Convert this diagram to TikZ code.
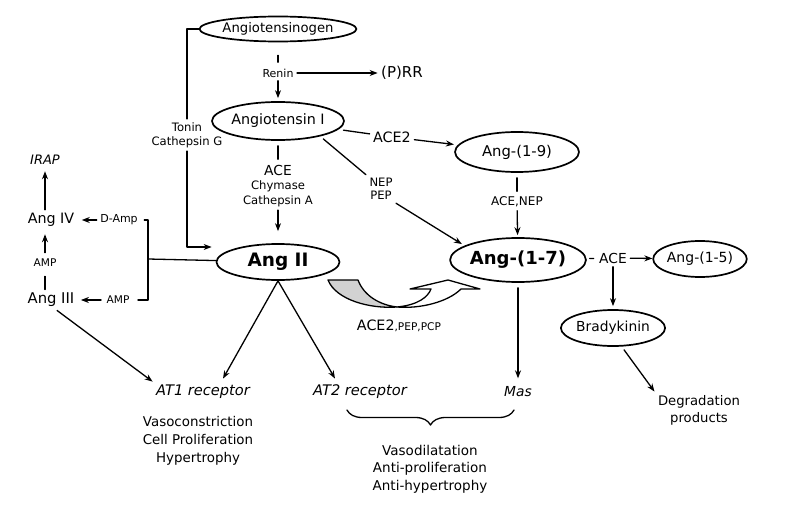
\documentclass[tikz,border=0pt]{standalone}
\usepackage{fontspec}
\setmainfont{DejaVu Sans}
\usetikzlibrary{arrows.meta,shapes.geometric,decorations.pathreplacing}
\newcommand{\fsz}[2]{\fontsize{#1}{#2}\selectfont}

\begin{document}
\begin{tikzpicture}[x=1pt, y=-1pt, line cap=round, line join=round,
    ell/.style={ellipse, draw, line width=1.7pt, inner sep=0pt},
    ln/.style={line width=1.3pt},
    arr/.style={-{Stealth[length=8pt,width=6pt]}}]
    \useasboundingbox (0,0) rectangle (796,511);
    \node[ell, minimum width=123pt, minimum height=25pt, font=\fsz{13.2}{15}] (ago) at (278,29) {Angiotensinogen};
    \node[font=\fsz{11}{12}] (renin) at (278,73) {Renin};
    \node[font=\fsz{15}{17}] (prr) at (402,73) {(P)RR};
    \node[ell, minimum width=123pt, minimum height=38pt, font=\fsz{14.3}{16}] (angI) at (278,121) {Angiotensin I};
    \node[align=center, font=\fsz{11.6}{14}] (tonin) at (187,135) {Tonin\\Cathepsin G};
    \node[font=\fsz{13.8}{15}] (aceI) at (278,170) {ACE};
    \node[font=\fsz{11.6}{13}] (chym) at (278,186) {Chymase};
    \node[font=\fsz{11.6}{13}] (cathA) at (278,201) {Cathepsin A};
    \node[ell, minimum width=123pt, minimum height=36pt, font=\bfseries\fsz{18.5}{20}] (angII) at (278,262) {Ang II};
    \node[font=\fsz{14.3}{16}] (ace2) at (392,137) {ACE2};
    \node[align=center, font=\fsz{11.6}{13}] (nep) at (381,189) {NEP\\PEP};
    \node[ell, minimum width=124pt, minimum height=40pt, font=\fsz{14.8}{16}] (a19) at (517,152) {Ang-(1-9)};
    \node[font=\fsz{12}{13}] (acenep) at (517,202) {ACE,NEP};
    \node[ell, minimum width=124pt, minimum height=44pt, font=\bfseries\fsz{18}{20}] (a17) at (518,260) {Ang-(1-7)};
    \node[font=\fsz{13.8}{15}] (aceR) at (613,258) {ACE};
    \node[ell, minimum width=88pt, minimum height=36pt, font=\fsz{14}{16}] (a15) at (700,259) {Ang-(1-5)};
    \node[ell, minimum width=88pt, minimum height=36pt, font=\fsz{13.8}{15}] (brady) at (613,328) {Bradykinin};
    \node[align=center, font=\fsz{13.2}{17}] (degr) at (699,410) {Degradation\\products};
    \node[font=\itshape\fsz{13.8}{15}] (mas) at (518,392) {Mas};
    \node[font=\itshape\fsz{14.6}{16}] (at1) at (203,392) {AT1 receptor};
    \node[font=\itshape\fsz{14.6}{16}] (at2) at (360,392) {AT2 receptor};
    \node[align=center, font=\fsz{13.4}{18}] (effA) at (198,441) {Vasoconstriction\\Cell Proliferation\\Hypertrophy};
    \node[align=center, font=\fsz{13.5}{17.5}] (effB) at (430,469) {Vasodilatation\\Anti-proliferation\\Anti-hypertrophy};
    \node[font=\itshape\fsz{13}{15}] (irap) at (45,160) {IRAP};
    \node[font=\fsz{14.3}{16}] (ang4) at (51,220) {Ang IV};
    \node[font=\fsz{11}{12}] (damp) at (119,220) {D-Amp};
    \node[font=\fsz{10.6}{12}] (ampU) at (45,263) {AMP};
    \node[font=\fsz{14.8}{16}] (ang3) at (51,300) {Ang III};
    \node[font=\fsz{10.6}{12}] (ampL) at (118,300) {AMP};
    \node[font=\fsz{14.3}{16}] (acepcp) at (399,326) {ACE2{\fsz{10.6}{12},PEP,PCP}};
    \coordinate (jn) at (148,259);

    \draw[ln, shorten <=13pt, shorten >=3pt] (ago) -- (renin);
    \draw[ln, arr, shorten >=3pt] (renin) -- (angI);
    \draw[ln, arr] (renin) -- (prr);
    \draw[ln] (ago) -| (tonin);
    \draw[ln, arr] (tonin) |- ([xshift=-4pt,yshift=15pt]angII.west);
    \draw[ln, shorten <=5pt, shorten >=2pt] (angI) -- (aceI);
    \draw[ln, arr, shorten >=12pt] (cathA) -- (angII);
    \draw[ln, shorten <=5pt] (angI) -- (ace2);
    \draw[ln, arr, shorten >=4pt] (ace2) -- (a19);
    \draw[ln, shorten <=4pt] (angI.-20) -- (nep.north west);
    \draw[ln, arr, shorten >=3pt] (nep.south east) -- (a17.165);
    \draw[ln, shorten <=5pt, shorten >=2pt] (a19) -- (acenep);
    \draw[ln, arr, shorten >=2pt] (acenep) -- (a17);
    \draw[ln, shorten <=3pt, shorten >=2pt] (a17) -- (aceR);
    \draw[ln, arr] (aceR) -- (a15);
    \draw[ln, arr, shorten >=3pt] (aceR) -- (brady);
    \draw[ln, arr, shorten <=4pt] (brady.-65) -- (degr.north west);
    \draw[ln, arr, shorten <=5pt, shorten >=5pt] (a17) -- (mas);
    \draw[ln, arr] (angII.south) -- ([xshift=20pt,yshift=3pt]at1.north);
    \draw[ln, arr] (angII.south) -- ([xshift=-25pt,yshift=3pt]at2.north);
    \draw[ln, arr] (ang3.-60) -- (at1.north west);
    \draw[ln] (angII) -- (jn);
    \draw[ln, shorten <=3pt, shorten >=5pt] (damp) -| (jn) |- (ampL);
    \draw[ln, arr, shorten >=4pt] (damp) -- (ang4);
    \draw[ln, arr, shorten <=2pt, shorten >=3pt] (ampL) -- (ang3);
    \draw[ln, shorten >=6pt] (ang3.north -| ampU) -- (ampU);
    \draw[ln, arr, shorten <=3pt, shorten >=4pt] (ampU) -- (ang4.south -| ampU);
    \draw[ln, arr, shorten >=3pt] (ang4.north -| irap) -- (irap);

    \filldraw[fill=gray!35, line width=1.3pt] (328,280) -- (358,280) .. controls (364,296) and (380,305) .. (397,307) .. controls (370,309) and (336,300) .. (328,280) -- cycle;
    \filldraw[fill=white, line width=1.3pt] (397,307) .. controls (418,305) and (428,297) .. (431,289) -- (410,289) -- (448,280) -- (480,289) -- (461,289) .. controls (448,302) and (420,309) .. (397,307) -- cycle;
    \draw[line width=1.3pt, decorate, decoration={brace, mirror, amplitude=15pt}] (347,410) -- (514,410);
  \end{tikzpicture}
\end{document}
